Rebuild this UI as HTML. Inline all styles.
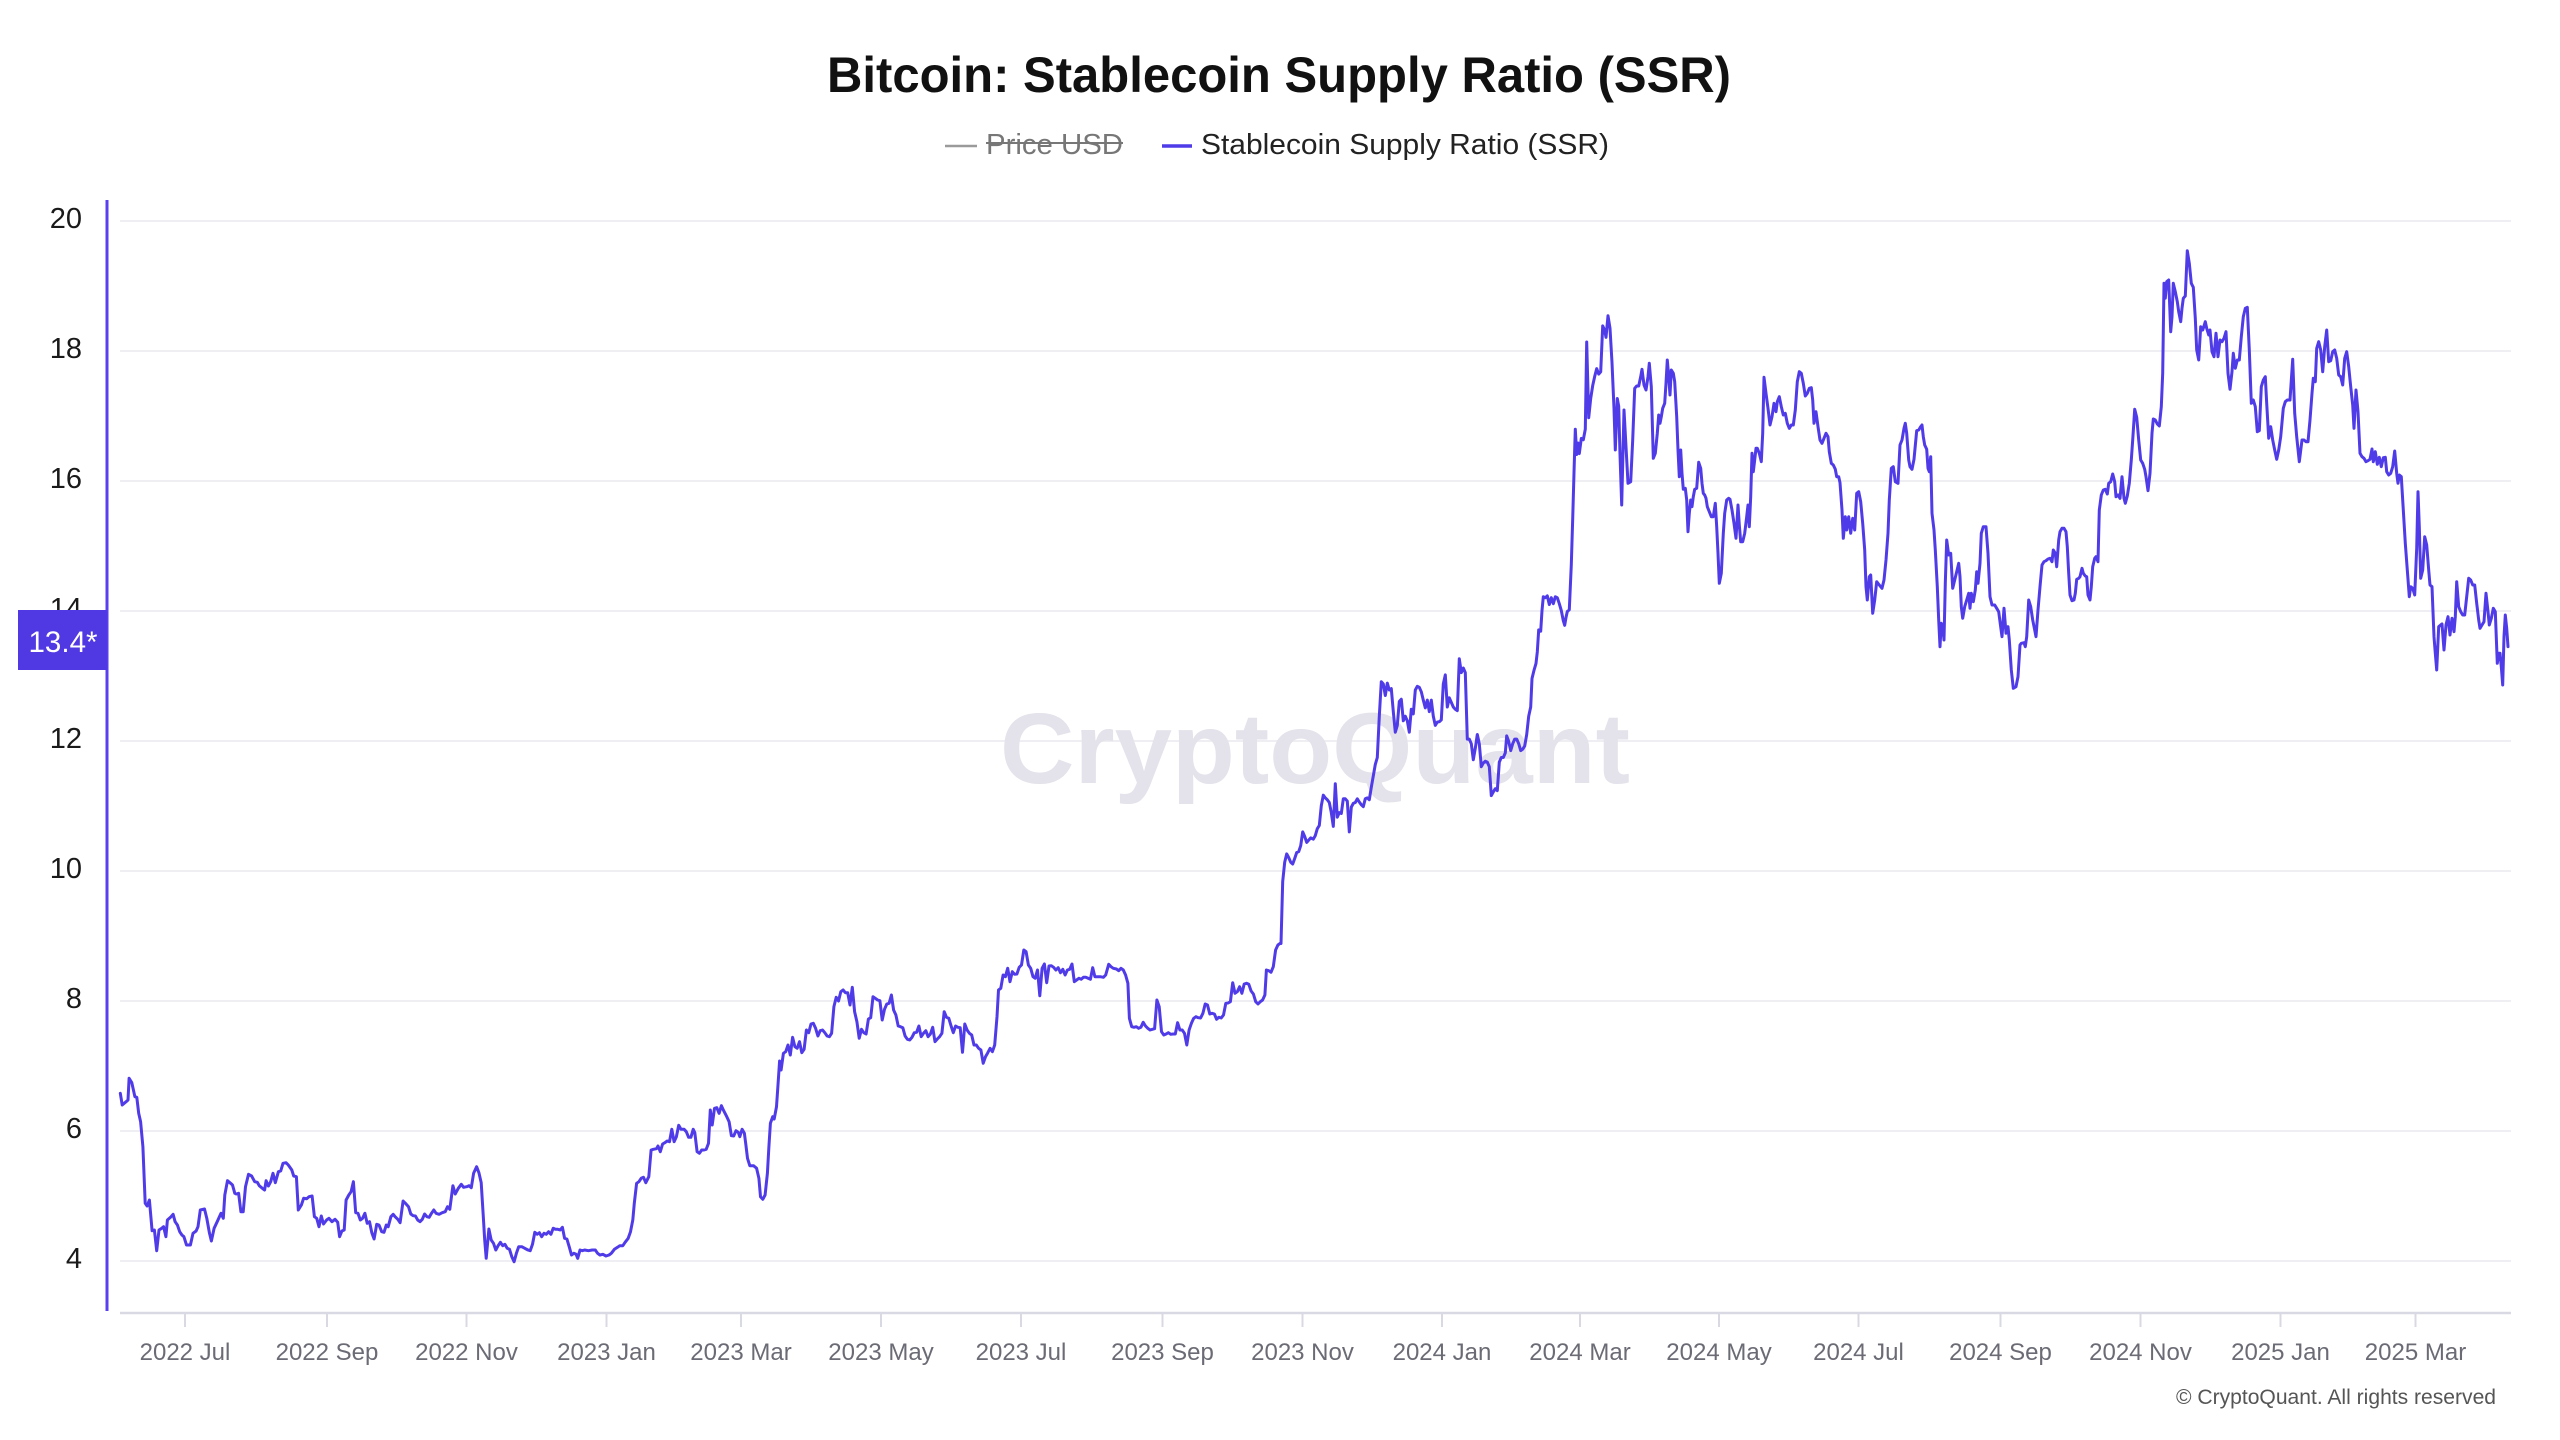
<!DOCTYPE html>
<html>
<head>
<meta charset="utf-8">
<style>
  html,body{margin:0;padding:0;background:#ffffff;}
  svg{display:block;}
  text{font-family:"Liberation Sans",Arial,sans-serif;}
</style>
</head>
<body>
<svg id="chart" width="2560" height="1440" viewBox="0 0 2560 1440" xmlns="http://www.w3.org/2000/svg">
  <rect x="0" y="0" width="2560" height="1440" fill="#ffffff"/>

  <!-- Title -->
  <text x="827" y="92" font-size="50" font-weight="bold" fill="#111111" textLength="904" lengthAdjust="spacingAndGlyphs">Bitcoin: Stablecoin Supply Ratio (SSR)</text>

  <!-- Legend -->
  <line x1="945" y1="146" x2="977" y2="146" stroke="#9a9a9a" stroke-width="2.5"/>
  <text x="986" y="154" font-size="29" fill="#777777" textLength="137" lengthAdjust="spacingAndGlyphs">Price USD</text>
  <line x1="986" y1="143" x2="1123" y2="143" stroke="#777777" stroke-width="2"/>
  <line x1="1162" y1="146" x2="1192" y2="146" stroke="#4f3be8" stroke-width="3.5"/>
  <text x="1201" y="154" font-size="29" fill="#222222" textLength="408" lengthAdjust="spacingAndGlyphs">Stablecoin Supply Ratio (SSR)</text>

  <!-- Gridlines -->
  <g stroke="#efeff3" stroke-width="2">
    <line x1="120" y1="221" x2="2511" y2="221"/>
    <line x1="120" y1="351" x2="2511" y2="351"/>
    <line x1="120" y1="481" x2="2511" y2="481"/>
    <line x1="120" y1="611" x2="2511" y2="611"/>
    <line x1="120" y1="741" x2="2511" y2="741"/>
    <line x1="120" y1="871" x2="2511" y2="871"/>
    <line x1="120" y1="1001" x2="2511" y2="1001"/>
    <line x1="120" y1="1131" x2="2511" y2="1131"/>
    <line x1="120" y1="1261" x2="2511" y2="1261"/>
  </g>

  <!-- Watermark -->
  <text x="1000" y="783" font-size="100" font-weight="bold" fill="#e4e2ea" textLength="630" lengthAdjust="spacingAndGlyphs">CryptoQuant</text>

  <!-- Y tick labels -->
  <g font-size="29" fill="#1a1a1a" text-anchor="end">
    <text x="82" y="228">20</text>
    <text x="82" y="358">18</text>
    <text x="82" y="488">16</text>
    <text x="82" y="618">14</text>
    <text x="82" y="748">12</text>
    <text x="82" y="878">10</text>
    <text x="82" y="1008">8</text>
    <text x="82" y="1138">6</text>
    <text x="82" y="1268">4</text>
  </g>

  <!-- X axis -->
  <line x1="120" y1="1313" x2="2511" y2="1313" stroke="#d9d9e3" stroke-width="2.5"/>
  <g stroke="#d9d9e3" stroke-width="2">
    <line x1="185" y1="1313" x2="185" y2="1327"/>
    <line x1="327" y1="1313" x2="327" y2="1327"/>
    <line x1="466.5" y1="1313" x2="466.5" y2="1327"/>
    <line x1="606.5" y1="1313" x2="606.5" y2="1327"/>
    <line x1="741" y1="1313" x2="741" y2="1327"/>
    <line x1="881" y1="1313" x2="881" y2="1327"/>
    <line x1="1021" y1="1313" x2="1021" y2="1327"/>
    <line x1="1162.5" y1="1313" x2="1162.5" y2="1327"/>
    <line x1="1302.5" y1="1313" x2="1302.5" y2="1327"/>
    <line x1="1442" y1="1313" x2="1442" y2="1327"/>
    <line x1="1580" y1="1313" x2="1580" y2="1327"/>
    <line x1="1719" y1="1313" x2="1719" y2="1327"/>
    <line x1="1858.5" y1="1313" x2="1858.5" y2="1327"/>
    <line x1="2000.5" y1="1313" x2="2000.5" y2="1327"/>
    <line x1="2140.5" y1="1313" x2="2140.5" y2="1327"/>
    <line x1="2280.5" y1="1313" x2="2280.5" y2="1327"/>
    <line x1="2415.5" y1="1313" x2="2415.5" y2="1327"/>
  </g>
  <g font-size="24" fill="#6b6b75" text-anchor="middle">
    <text x="185" y="1360">2022 Jul</text>
    <text x="327" y="1360">2022 Sep</text>
    <text x="466.5" y="1360">2022 Nov</text>
    <text x="606.5" y="1360">2023 Jan</text>
    <text x="741" y="1360">2023 Mar</text>
    <text x="881" y="1360">2023 May</text>
    <text x="1021" y="1360">2023 Jul</text>
    <text x="1162.5" y="1360">2023 Sep</text>
    <text x="1302.5" y="1360">2023 Nov</text>
    <text x="1442" y="1360">2024 Jan</text>
    <text x="1580" y="1360">2024 Mar</text>
    <text x="1719" y="1360">2024 May</text>
    <text x="1858.5" y="1360">2024 Jul</text>
    <text x="2000.5" y="1360">2024 Sep</text>
    <text x="2140.5" y="1360">2024 Nov</text>
    <text x="2280.5" y="1360">2025 Jan</text>
    <text x="2415.5" y="1360">2025 Mar</text>
  </g>

  <!-- Series -->
  <polyline id="ln" points="" fill="none" stroke="#4f3be8" stroke-width="3" stroke-linejoin="round" stroke-linecap="round"/>

  <!-- Y axis line -->
  <line x1="107" y1="200" x2="107" y2="1311" stroke="#5a3ff0" stroke-width="3"/>

  <!-- Badge -->
  <rect x="18" y="610" width="89" height="60" fill="#5038e3"/>
  <text x="63" y="652" font-size="30" fill="#ffffff" text-anchor="middle" textLength="69" lengthAdjust="spacingAndGlyphs">13.4*</text>

  <!-- Copyright -->
  <text x="2496" y="1404" font-size="21" fill="#555555" text-anchor="end" textLength="320" lengthAdjust="spacingAndGlyphs">© CryptoQuant. All rights reserved</text>
</svg>

<script>
(function(){
var segs = [
 {ox:110, oy:1040, sx:2.613, sy:3, pts:[27,160,32,195,42,185,47,180,50,115,57,128,65,170,70,172,75,220,80,245,86,320,92,490,97,498,103,480,110,572,116,570,122,632,128,570,135,565,140,560,146,590,150,540,158,532,165,523,170,545,176,555,182,575,188,585,193,590,200,615,210,615,217,580,225,573,230,560,236,510,247,507,253,535,260,580,265,603,272,565,280,545,290,520,296,535,300,465,307,422,315,430,320,435,326,460,330,462,336,460,342,515,348,515,354,440,362,403,370,408,378,425,385,427,390,437,398,445,404,450,408,422,414,438,420,425,426,400,432,428,440,395,446,393,452,370,460,368,466,375,475,390,480,408,487,410,492,510,500,495,506,475,514,476,520,470,528,468,534,530,540,535,546,560,552,528,558,552,566,540,572,535,580,545,588,538,595,547,600,590,606,573,612,570,617,480,624,465,630,455,636,425,642,518,648,520,654,540,660,535,666,520,672,550,678,545,684,578,690,597,697,553,703,555,710,575,716,577,722,555,727,560,734,530,740,523,745,530,752,538,758,548,766,483,772,490,780,500,786,522,792,527,798,528,804,540,810,545,816,538,822,522,828,530,834,532,840,520,846,510,852,520,860,523,868,518,876,515,882,500,888,508,896,437,902,462,910,445,918,433,924,442,932,440,938,437,944,443,950,400,958,380,964,398,970,428,975,520,979,600,983,655,990,567,996,600,1002,610,1008,630,1014,617,1020,607,1026,617,1032,613,1038,625,1044,628,1050,650,1056,665,1062,640,1068,620,1076,620,1084,625,1092,630,1098,632,1104,613,1110,577,1116,583,1122,578,1128,590,1134,580,1140,583,1146,575,1152,583,1158,565,1164,568,1170,568,1176,570,1182,562,1188,595,1194,597,1200,620,1206,645,1212,640,1218,643,1222,655,1228,630,1234,632,1240,630,1250,632,1260,630,1268,630,1274,640,1280,645,1288,643,1296,648,1304,645,1310,640,1318,628,1326,622,1332,617,1340,617,1346,607,1354,595,1360,575,1366,540,1370,490,1376,430,1382,425,1388,415,1394,412,1400,428,1408,410,1414,330,1420,328,1428,326,1432,318,1438,335,1444,312,1450,308,1456,303,1462,305,1468,268,1474,305,1480,290,1486,256,1492,268,1500,268,1506,275,1512,292,1518,292,1524,268,1528,278,1534,335,1540,340,1546,330,1552,330,1558,328,1564,310]},
 {ox:700, oy:920, sx:2.613, sy:3, pts:[27,570,32,615,38,565,44,563,50,580,56,557,62,572,70,590,76,605,82,647,88,648,94,632,100,637,104,650,110,628,116,640,120,675,124,715,130,737,140,737,148,745,154,775,158,830,164,838,170,825,176,760,180,680,184,610,190,590,194,597,200,560,204,490,208,423,212,450,218,400,224,395,230,375,236,405,242,352,248,380,254,385,260,365,266,398,272,388,278,330,284,338,290,312,296,310,302,325,308,348,314,332,320,330,326,338,332,348,338,350,344,340,350,260,356,232,362,243,368,215,374,210,380,218,386,218,392,255,398,202,404,275,410,305,416,355,422,328,428,338,434,342,440,297,446,293,452,230,458,235,464,240,470,242,476,300,482,268,488,252,494,250,500,225,506,270,512,285,518,318,524,320,530,323,536,348,542,358,548,360,554,352,560,338,566,337,572,318,578,350,584,340,590,332,596,350,602,342,608,322,614,365,620,357,626,350,632,340,638,275,644,292,650,295,656,318,662,338,668,318,674,322,680,323,686,397,692,312,698,330,704,340,710,345,716,375,722,375,728,385,734,390,740,430,746,410,752,398,758,385,764,395,770,375,776,290,780,210,786,205,792,165,798,170,804,145,810,185,816,155,822,163,828,162,834,142,840,135,846,90,852,95,858,135,864,145,870,170,876,175,882,150,888,227,894,145,900,132,906,188,912,138,918,137,924,142,930,150,936,143,942,158,948,148,954,165,960,150,966,148,972,132,978,185,984,180,990,175,996,178,1002,172,1008,172,1014,175,1020,178,1026,143,1032,170,1038,170,1046,170,1054,172,1060,165,1068,133,1074,140,1080,145,1088,147,1094,152,1100,145,1106,150,1112,165,1118,190,1122,295,1128,320,1134,322,1140,320,1146,325,1152,322,1158,307,1164,318,1170,325,1176,330,1182,328,1188,326,1194,240,1200,260,1206,335,1212,345,1218,342,1224,338,1230,343,1236,342,1242,342,1248,308,1254,330,1260,330,1266,340,1272,375,1278,330,1284,310,1290,295,1296,290,1302,293,1308,294,1314,280,1320,252,1326,255,1332,282,1338,280,1344,282,1350,298,1356,292,1362,294,1368,285,1374,250,1380,249,1386,245,1392,188,1398,220,1404,215,1410,200,1416,220,1422,192,1428,190,1434,193,1440,213,1446,222,1452,245,1458,252,1464,245,1470,240,1476,225,1480,150,1486,152,1492,157,1498,140,1504,90,1510,75,1516,70]},
 {ox:1280, oy:280, sx:3, sy:2.178, pts:[3,1445,8,1310,14,1268,20,1250,26,1258,32,1268,38,1272,44,1260,50,1247,56,1245,62,1232,68,1202,74,1212,80,1225,86,1220,92,1215,100,1218,106,1210,112,1195,118,1188,124,1145,130,1122,136,1128,142,1132,148,1138,154,1160,160,1190,166,1097,172,1170,178,1160,184,1162,190,1130,196,1130,202,1135,208,1202,214,1148,220,1140,226,1138,232,1130,238,1137,244,1143,250,1147,256,1130,262,1128,268,1132,274,1105,280,1080,286,1055,292,1040,298,950,304,875,310,880,316,905,322,878,328,893,334,890,340,940,346,985,352,970,358,918,364,913,370,960,376,950,382,960,388,985,394,935,400,945,406,893,412,885,418,887,424,897,430,915,436,932,442,915,448,940,454,915,460,950,466,970,472,963,478,962,484,958,490,880,496,860,502,930,508,910,514,920,520,930,526,935,532,938,538,825,544,855,550,845,556,855,562,1000,568,1000,574,1010,580,1045,586,1020,592,990,598,1010,604,1060,610,1052,616,1048,622,1050,628,1060,634,1123,640,1115,646,1108,652,1112,658,1050,664,1040,670,1040,676,1030,680,993,686,1005,692,1025,698,1010,704,1000,710,1000,716,1010,722,1025,728,1022,734,1015,740,990,746,950,752,930,756,868,762,850,768,835,772,810,776,762,782,765,786,720,790,690,796,692,802,688,808,707,814,692,820,705,826,690,832,692,838,705,844,720,850,742,854,752,858,735,862,722,868,718,874,620,878,520,882,420,886,325,890,380,894,355,898,378,904,345,910,348,916,325,920,135,926,300,932,258,938,230,944,210,950,193,956,205,962,200,968,100,974,110,978,125,984,78,990,105,996,180,1002,280,1006,370,1012,258,1016,275,1020,380]},
 {ox:1620, oy:260, sx:3, sy:3, pts:[5,735,12,450,18,560,24,670,32,665,38,540,44,385,50,378,56,378,62,350,66,328,72,375,78,390,84,350,88,310,94,380,100,595,106,580,112,520,116,465,120,490,124,470,128,445,134,430,138,370,142,300,146,350,150,405,154,330,160,340,164,365,170,470,174,570,178,650,182,570,186,640,190,688,196,685,200,720,204,815,208,760,212,720,216,740,220,710,224,688,230,685,236,607,242,625,246,670,250,700,254,705,258,715,262,740,268,755,274,770,280,770,286,730,290,800,294,880,298,970,304,940,310,820,314,760,320,720,326,715,330,718,336,750,342,790,348,835,354,735,358,795,362,845,368,845,374,820,380,770,384,735,388,800,392,710,396,580,400,635,404,600,408,565,412,565,418,580,424,605,428,520,432,352,438,400,444,445,450,495,456,470,462,430,468,455,472,425,478,410,484,440,490,465,496,460,502,490,508,505,514,495,520,495,526,450,532,365,538,335,544,340,550,370,556,408,562,400,568,385,574,383,578,420,582,490,588,455,594,500,600,540,606,550,612,535,618,520,624,530,628,575,634,610,640,615,646,628,650,650,656,650,660,668,666,750,670,835,676,770,680,810,686,770,692,820,698,775,704,810,710,700,716,695,722,725,728,790,734,870,738,980,742,1020,748,950,752,945,758,1060,764,1020,770,965,778,975,786,985,792,960,798,900,804,820,808,720,814,625,820,620,826,665,834,670,840,555,846,540,852,505,856,490,860,520,866,600,870,620,876,628,882,598,890,512,896,510,902,500,906,495,910,530,914,555,920,568,924,625,928,635,932,590,936,760,942,810,946,870,952,980,956,1080,960,1160,964,1090,968,1100,972,1140,976,970,980,840,986,885,992,880,998,985,1004,960,1010,935,1016,910,1020,950,1024,1040,1028,1075,1034,1040,1040,1020,1046,1000,1050,1045,1054,1000,1060,1025,1066,990,1070,935,1074,970,1080,910,1084,820,1090,800,1098,800,1104,880,1110,1010,1116,1035,1124,1035,1130,1045,1136,1055,1140,1085,1146,1130,1152,1045,1158,1120,1164,1100,1168,1140,1174,1230,1180,1285,1188,1280,1194,1250,1200,1155]},
 {ox:2020, oy:220, sx:3, sy:3, pts:[4,1270,12,1268,16,1280,20,1250,26,1140,32,1160,38,1200,44,1230,48,1250,54,1170,60,1100,66,1035,72,1025,78,1022,84,1017,90,1015,96,1025,100,990,106,1000,110,1040,116,960,120,935,126,925,132,925,138,935,142,980,146,1060,150,1125,156,1142,162,1140,166,1120,170,1078,176,1075,180,1070,186,1045,190,1060,196,1068,200,1070,204,1125,210,1140,214,1100,218,1040,224,1015,228,1010,234,1025,238,870,244,825,250,810,256,808,262,822,266,790,272,785,278,762,284,785,288,830,294,825,300,835,306,770,312,835,316,850,322,828,328,790,334,720,338,660,344,568,350,592,356,660,362,720,368,730,374,748,378,770,384,812,390,760,396,640,400,597,406,600,412,612,418,618,424,560,428,460,432,190,436,235,440,185,446,180,452,335,456,290,460,190,466,215,472,245,476,275,482,305,486,265,490,235,496,228,502,92,508,130,514,190,520,202,526,295,530,390,536,420,542,320,548,330,552,318,556,305,560,325,566,345,570,330,576,395,582,410,588,340,594,410,600,360,606,365,612,355,618,335,624,460,630,508,636,455,640,400,646,445,652,420,658,420,664,350,670,290,676,265,682,262,688,390,694,550,700,540,706,560,712,635,718,632,724,500,730,480,736,470,740,550,746,655,752,620,758,660,764,690,770,718,776,690,782,650,790,565,796,545,802,540,810,540,818,418,824,580,830,650,838,725,846,660,852,660,858,665,864,665,870,600,876,520,880,475,886,485,890,385,896,365,902,390,908,455,914,380,920,330,926,425,932,422,938,395,944,390,950,415,956,465,962,470,968,495,974,415,980,395,986,440,992,500,998,555,1002,625,1008,510,1014,575,1020,700,1026,710,1032,715,1038,725,1044,722,1050,718,1056,687,1060,725,1066,695,1072,733,1078,712,1084,740,1090,713,1096,712,1100,755,1106,765,1112,760,1118,740,1124,693,1130,760,1134,790,1138,765,1144,770,1150,870,1156,970,1162,1050,1168,1130,1172,1100,1178,1105,1184,1125,1190,985,1194,815,1198,920,1202,1075,1208,1050,1214,950,1220,975,1226,1050,1230,1095,1236,1100,1242,1250,1246,1300,1250,1350,1256,1220,1262,1215,1266,1212,1272,1290,1278,1215,1284,1190,1290,1245,1296,1195,1302,1235,1306,1190,1310,1085,1316,1160,1322,1175,1328,1185,1334,1185,1340,1130,1346,1075,1352,1080,1358,1095,1364,1095,1370,1150,1376,1200,1380,1225,1386,1215,1392,1205,1398,1120,1404,1175,1408,1215,1414,1195,1420,1165,1426,1175,1432,1330,1436,1300,1440,1300,1444,1340,1448,1395,1452,1250,1456,1185,1460,1225,1464,1280]}
];
var out = [];
for (var s = 0; s < segs.length; s++) {
  var g = segs[s], p = g.pts;
  for (var i = 0; i + 1 < p.length; i += 2) {
    var x = g.ox + p[i] / g.sx;
    var y = g.oy + p[i + 1] / g.sy;
    out.push(x.toFixed(1) + ',' + y.toFixed(1));
  }
}
document.getElementById('ln').setAttribute('points', out.join(' '));
})();
</script>
</body>
</html>
